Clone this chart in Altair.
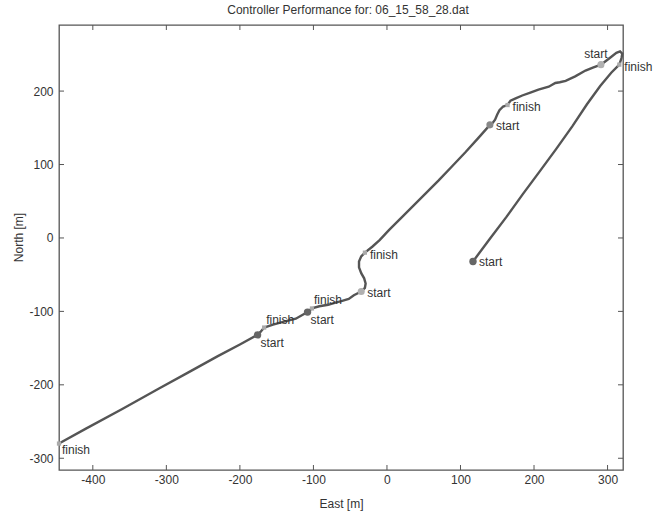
import altair as alt
import pandas as pd

# Trajectory (East, North) in metres
path_east = [117, 140, 162, 185, 208, 230, 252, 272, 290, 305, 316,
             319, 320, 317, 312, 303, 295, 291,
             280, 270, 256, 243, 235, 229, 220, 206, 195, 184, 175, 168, 164,
             158, 153, 150, 147, 144, 140,
             125, 107, 88, 70, 52, 34, 18, 3, -10, -20, -30,
             -35, -38, -38, -35, -31, -29, -30, -35,
             -45, -52, -62, -70, -80, -92, -102, -108,
             -124, -140, -155, -167, -172, -176,
             -200, -230, -270, -310, -360, -410, -446]
path_north = [-32, -1, 28, 60, 91, 121, 152, 182, 207, 225, 236,
              245, 251, 254, 252, 245, 239, 236,
              232, 228, 220, 214, 212, 211, 206, 202, 198, 194, 190, 187, 181,
              179, 174, 168, 161, 157, 154,
              137, 117, 97, 78, 60, 42, 26, 11, -3, -12, -20,
              -25, -32, -40, -48, -55, -62, -68, -73,
              -78, -83, -86, -88, -91, -93, -96, -101,
              -110, -114, -118, -122, -128, -132,
              -145, -161, -183, -205, -233, -260, -280]

starts_east = [117, 291, 140, -35, -108, -176]
starts_north = [-32, 236, 154, -73, -101, -132]
finish_east = [316, 164, -30, -102, -167, -446]
finish_north = [236, 181, -20, -96, -122, -280]

ticks_x = [-400, -300, -200, -100, 0, 100, 200, 300]
ticks_y = [-300, -200, -100, 0, 100, 200]

title_text = "Controller Performance for: 06_15_58_28.dat"
x_title = "East [m]"
y_title = "North [m]"

W, H = 564, 445
XDOM = [-446, 321]
YDOM = [-316, 290]
FONT = "Liberation Sans"
TXT = "#333333"
LBL = "datum.value < 0 ? '-' + abs(datum.value) : '' + datum.value"

xs = alt.Scale(domain=XDOM, nice=False, zero=False)
ys = alt.Scale(domain=YDOM, nice=False, zero=False)

path_df = pd.DataFrame({"i": range(len(path_east)), "E": path_east, "N": path_north})
start_df = pd.DataFrame({"E": starts_east, "N": starts_north, "lab": ["start"] * len(starts_east)})
finish_df = pd.DataFrame({"E": finish_east, "N": finish_north, "lab": ["finish"] * len(finish_east)})


def sub(df, idx):
    return df.iloc[idx].reset_index(drop=True)


line = alt.Chart(path_df).mark_line(color="#555555", strokeWidth=2.4).encode(
    x=alt.X("E:Q", scale=xs, title=x_title,
            axis=alt.Axis(values=ticks_x, titleY=33, titleBaseline="middle", labelPadding=4,
                          labelExpr=LBL)),
    y=alt.Y("N:Q", scale=ys, title=y_title,
            axis=alt.Axis(values=ticks_y, titleX=-41, titleY=212, titleBaseline="middle",
                          titleAngle=-90, labelPadding=6, labelExpr=LBL)),
    order=alt.Order("i:Q"),
)


def pts(df, color, size, shape):
    return alt.Chart(df).mark_point(filled=True, color=color, size=size, shape=shape, opacity=1).encode(
        x=alt.X("E:Q", scale=xs), y=alt.Y("N:Q", scale=ys))


def labels(df, dx, dy, align="left"):
    return alt.Chart(df).mark_text(align=align, baseline="middle", dx=dx, dy=dy, font=FONT,
                                   fontSize=12, color=TXT).encode(
        x=alt.X("E:Q", scale=xs), y=alt.Y("N:Q", scale=ys), text="lab:N")


start_dark = pts(sub(start_df, [0, 4, 5]), "#666666", 55, "circle")
start_mid = pts(sub(start_df, [2]), "#888888", 50, "circle")
start_light = pts(sub(start_df, [1, 3]), "#b0b0b0", 50, "circle")
finish_pts = pts(finish_df, "#aaaaaa", 18, "square")

start_lab_r = labels(sub(start_df, [0, 2, 3]), 6, 1)
start_lab_br = labels(sub(start_df, [4, 5]), 3, 8)
start_lab_a = labels(sub(start_df, [1]), -5, -11, align="center")
finish_lab_r = labels(sub(finish_df, [0, 1, 2]), 5, 2)
finish_lab_ar = labels(sub(finish_df, [3, 4]), 2, -8)
finish_lab_br = labels(sub(finish_df, [5]), 3, 6)

tx = pd.DataFrame({"t": ticks_x})
ty = pd.DataFrame({"t": ticks_y})
tick_style = dict(color="#555555", strokeWidth=1)
bt = alt.Chart(tx).mark_rule(**tick_style).encode(
    x=alt.X("t:Q", scale=xs), y=alt.value(H), y2=alt.value(H - 5))
tt = alt.Chart(tx).mark_rule(**tick_style).encode(
    x=alt.X("t:Q", scale=xs), y=alt.value(0), y2=alt.value(5))
lt = alt.Chart(ty).mark_rule(**tick_style).encode(
    y=alt.Y("t:Q", scale=ys), x=alt.value(0), x2=alt.value(5))
rt = alt.Chart(ty).mark_rule(**tick_style).encode(
    y=alt.Y("t:Q", scale=ys), x=alt.value(W), x2=alt.value(W - 5))

chart = alt.layer(
    bt, tt, lt, rt, line, finish_pts, start_dark, start_mid, start_light,
    start_lab_r, start_lab_br, start_lab_a, finish_lab_r, finish_lab_ar, finish_lab_br,
).properties(
    width=W, height=H,
    title=alt.TitleParams(title_text, font=FONT, fontSize=12, fontWeight="normal", color=TXT,
                          offset=8, dx=7),
    autosize=alt.AutoSizeParams(type="none"),
    padding={"left": 59, "top": 25, "right": 37, "bottom": 44},
).configure_view(
    stroke="#555555", strokeWidth=1.3
).configure_axis(
    domain=False, ticks=False, grid=False, labelFont=FONT, labelFontSize=12, labelColor=TXT,
    titleFont=FONT, titleFontSize=12, titleFontWeight="normal", titleColor=TXT,
)

chart.save("out.html", embed_options={"renderer": "svg", "actions": False})
